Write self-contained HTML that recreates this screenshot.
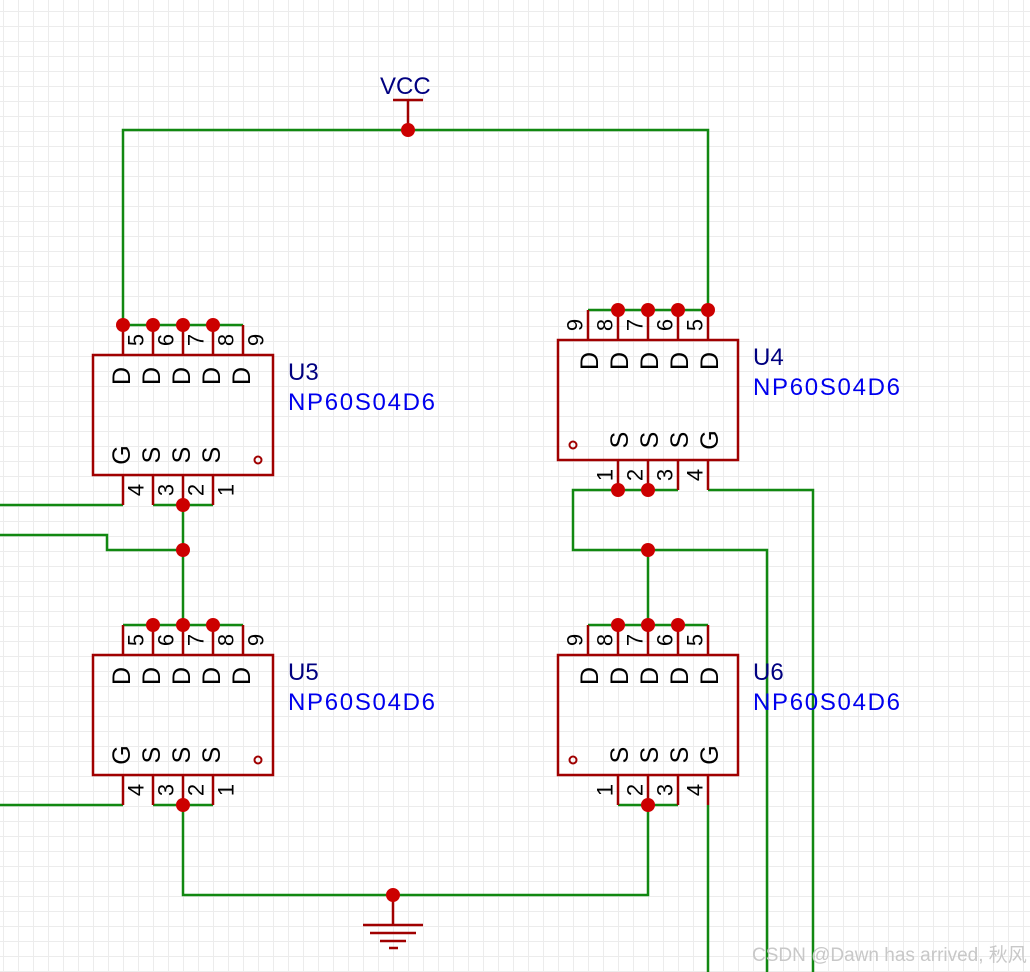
<!DOCTYPE html>
<html><head><meta charset="utf-8"><style>
html,body{margin:0;padding:0;background:#fff;width:1030px;height:972px;overflow:hidden}
svg{display:block}
.t{font-family:"Liberation Sans",sans-serif}
</style></head><body>
<svg width="1030" height="972" xmlns="http://www.w3.org/2000/svg">
<defs>
<pattern id="g" x="3" y="11" width="15" height="15" patternUnits="userSpaceOnUse">
<path d="M0.5 0V15M0 0.5H15" stroke="#ececec" stroke-width="1" fill="none"/>
</pattern>
</defs>
<rect width="1030" height="972" fill="#fff"/>
<rect width="1030" height="972" fill="url(#g)"/>

<g stroke="#118811" stroke-width="2.5" fill="none">
<polyline points="123,325 123,130 708,130 708,310"/>
<line x1="123" y1="325" x2="243" y2="325"/>
<line x1="588" y1="310" x2="708" y2="310"/>
<polyline points="0,505 123,505"/>
<line x1="153" y1="505" x2="213" y2="505"/>
<line x1="183" y1="505" x2="183" y2="625"/>
<polyline points="0,535 107,535 107,550 183,550"/>
<line x1="123" y1="625" x2="243" y2="625"/>
<polyline points="0,805 123,805"/>
<line x1="153" y1="805" x2="213" y2="805"/>
<polyline points="183,805 183,895 648,895 648,805"/>
<line x1="618" y1="805" x2="678" y2="805"/>
<polyline points="678,490 573,490 573,550 767,550 767,972"/>
<line x1="648" y1="550" x2="648" y2="625"/>
<polyline points="708,490 813,490 813,972"/>
<line x1="588" y1="625" x2="708" y2="625"/>
<line x1="708" y1="805" x2="708" y2="972"/>
</g>

<g stroke="#a00000" stroke-width="2.5" fill="none">
<rect x="93" y="355" width="180" height="120"/>
<rect x="93" y="655" width="180" height="120"/>
<rect x="558" y="340" width="180" height="120"/>
<rect x="558" y="655" width="180" height="120"/>
<path d="M123 325V355M153 325V355M183 325V355M213 325V355M243 325V355
M123 475V505M153 475V505M183 475V505M213 475V505
M123 625V655M153 625V655M183 625V655M213 625V655M243 625V655
M123 775V805M153 775V805M183 775V805M213 775V805
M588 310V340M618 310V340M648 310V340M678 310V340M708 310V340
M618 460V490M648 460V490M678 460V490M708 460V490
M588 625V655M618 625V655M648 625V655M678 625V655M708 625V655
M618 775V805M648 775V805M678 775V805M708 775V805"/>
<circle cx="258" cy="460" r="3.5" stroke-width="2"/>
<circle cx="258" cy="760" r="3.5" stroke-width="2"/>
<circle cx="573" cy="445" r="3.5" stroke-width="2"/>
<circle cx="573" cy="760" r="3.5" stroke-width="2"/>
<path d="M393 100H423M408 100V130"/>
<path d="M393 895V925M363 925H423M370 933H416M380 941H406M389 948H398"/>
</g>

<g fill="#cc0000">
<circle cx="408" cy="130" r="7"/>
<circle cx="123" cy="325" r="7"/><circle cx="153" cy="325" r="7"/><circle cx="183" cy="325" r="7"/><circle cx="213" cy="325" r="7"/>
<circle cx="618" cy="310" r="7"/><circle cx="648" cy="310" r="7"/><circle cx="678" cy="310" r="7"/><circle cx="708" cy="310" r="7"/>
<circle cx="183" cy="505" r="7"/><circle cx="183" cy="550" r="7"/>
<circle cx="153" cy="625" r="7"/><circle cx="183" cy="625" r="7"/><circle cx="213" cy="625" r="7"/>
<circle cx="183" cy="805" r="7"/>
<circle cx="618" cy="490" r="7"/><circle cx="648" cy="490" r="7"/><circle cx="648" cy="550" r="7"/>
<circle cx="618" cy="625" r="7"/><circle cx="648" cy="625" r="7"/><circle cx="678" cy="625" r="7"/>
<circle cx="648" cy="805" r="7"/>
<circle cx="393" cy="895" r="7"/>
</g>

<g class="t" font-size="25" fill="#000" text-anchor="middle" dominant-baseline="central">
<text transform="translate(122,376) rotate(-90)">D</text><text transform="translate(152,376) rotate(-90)">D</text><text transform="translate(182,376) rotate(-90)">D</text><text transform="translate(212,376) rotate(-90)">D</text><text transform="translate(242,376) rotate(-90)">D</text>
<text transform="translate(122,455) rotate(-90)">G</text><text transform="translate(152,455) rotate(-90)">S</text><text transform="translate(182,455) rotate(-90)">S</text><text transform="translate(212,455) rotate(-90)">S</text>
<text transform="translate(122,676) rotate(-90)">D</text><text transform="translate(152,676) rotate(-90)">D</text><text transform="translate(182,676) rotate(-90)">D</text><text transform="translate(212,676) rotate(-90)">D</text><text transform="translate(242,676) rotate(-90)">D</text>
<text transform="translate(122,755) rotate(-90)">G</text><text transform="translate(152,755) rotate(-90)">S</text><text transform="translate(182,755) rotate(-90)">S</text><text transform="translate(212,755) rotate(-90)">S</text>
<text transform="translate(590,361) rotate(-90)">D</text><text transform="translate(620,361) rotate(-90)">D</text><text transform="translate(650,361) rotate(-90)">D</text><text transform="translate(680,361) rotate(-90)">D</text><text transform="translate(710,361) rotate(-90)">D</text>
<text transform="translate(620,440) rotate(-90)">S</text><text transform="translate(650,440) rotate(-90)">S</text><text transform="translate(680,440) rotate(-90)">S</text><text transform="translate(710,440) rotate(-90)">G</text>
<text transform="translate(590,676) rotate(-90)">D</text><text transform="translate(620,676) rotate(-90)">D</text><text transform="translate(650,676) rotate(-90)">D</text><text transform="translate(680,676) rotate(-90)">D</text><text transform="translate(710,676) rotate(-90)">D</text>
<text transform="translate(620,755) rotate(-90)">S</text><text transform="translate(650,755) rotate(-90)">S</text><text transform="translate(680,755) rotate(-90)">S</text><text transform="translate(710,755) rotate(-90)">G</text>
</g>
<g class="t" font-size="22" fill="#000" text-anchor="middle" dominant-baseline="central">
<text transform="translate(136,340) rotate(-90)">5</text><text transform="translate(166,340) rotate(-90)">6</text><text transform="translate(196,340) rotate(-90)">7</text><text transform="translate(226,340) rotate(-90)">8</text><text transform="translate(256,340) rotate(-90)">9</text>
<text transform="translate(136,490) rotate(-90)">4</text><text transform="translate(166,490) rotate(-90)">3</text><text transform="translate(196,490) rotate(-90)">2</text><text transform="translate(226,490) rotate(-90)">1</text>
<text transform="translate(136,640) rotate(-90)">5</text><text transform="translate(166,640) rotate(-90)">6</text><text transform="translate(196,640) rotate(-90)">7</text><text transform="translate(226,640) rotate(-90)">8</text><text transform="translate(256,640) rotate(-90)">9</text>
<text transform="translate(136,790) rotate(-90)">4</text><text transform="translate(166,790) rotate(-90)">3</text><text transform="translate(196,790) rotate(-90)">2</text><text transform="translate(226,790) rotate(-90)">1</text>
<text transform="translate(575,325) rotate(-90)">9</text><text transform="translate(605,325) rotate(-90)">8</text><text transform="translate(635,325) rotate(-90)">7</text><text transform="translate(665,325) rotate(-90)">6</text><text transform="translate(695,325) rotate(-90)">5</text>
<text transform="translate(605,475) rotate(-90)">1</text><text transform="translate(635,475) rotate(-90)">2</text><text transform="translate(665,475) rotate(-90)">3</text><text transform="translate(695,475) rotate(-90)">4</text>
<text transform="translate(575,640) rotate(-90)">9</text><text transform="translate(605,640) rotate(-90)">8</text><text transform="translate(635,640) rotate(-90)">7</text><text transform="translate(665,640) rotate(-90)">6</text><text transform="translate(695,640) rotate(-90)">5</text>
<text transform="translate(605,790) rotate(-90)">1</text><text transform="translate(635,790) rotate(-90)">2</text><text transform="translate(665,790) rotate(-90)">3</text><text transform="translate(695,790) rotate(-90)">4</text>
</g>

<g class="t" font-size="24">
<text x="380" y="94" fill="#000080">VCC</text>
<text x="288" y="380" fill="#000080">U3</text>
<text x="288" y="410" fill="#0000ee" textLength="147">NP60S04D6</text>
<text x="753" y="365" fill="#000080">U4</text>
<text x="753" y="395" fill="#0000ee" textLength="147">NP60S04D6</text>
<text x="288" y="680" fill="#000080">U5</text>
<text x="288" y="710" fill="#0000ee" textLength="147">NP60S04D6</text>
<text x="753" y="680" fill="#000080">U6</text>
<text x="753" y="710" fill="#0000ee" textLength="147">NP60S04D6</text>
</g>
<text x="752" y="961" font-size="19" fill="#c8c8c8" font-family="'Liberation Sans','Noto Sans CJK SC',sans-serif">CSDN @Dawn has arrived, 秋风</text>
</svg>
</body></html>
